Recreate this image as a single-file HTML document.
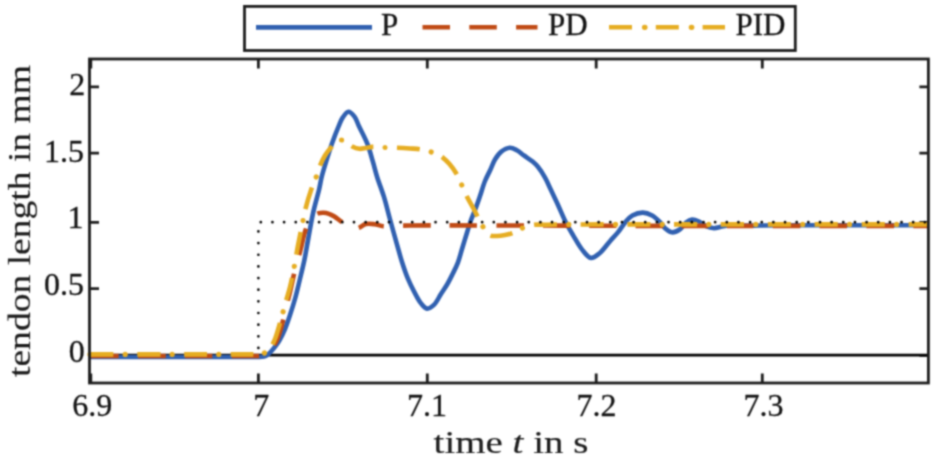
<!DOCTYPE html>
<html><head><meta charset="utf-8"><title>tendon length</title>
<style>
html,body{margin:0;padding:0;background:#fff;}
body{width:935px;height:456px;overflow:hidden;font-family:"Liberation Serif",serif;}
svg{display:block;}
</style></head><body>
<svg width="935" height="456" viewBox="0 0 935 456">
<defs><filter id="b" x="0" y="0" width="100%" height="100%" filterUnits="userSpaceOnUse" color-interpolation-filters="sRGB"><feConvolveMatrix order="5" kernelMatrix="0.00048 0.00501 0.01095 0.00501 0.00048 0.00501 0.05222 0.11405 0.05222 0.00501 0.01095 0.11405 0.24912 0.11405 0.01095 0.00501 0.05222 0.11405 0.05222 0.00501 0.00048 0.00501 0.01095 0.00501 0.00048" edgeMode="duplicate"/></filter></defs>
<g filter="url(#b)">
<rect width="935" height="456" fill="#fff"/>
<path d="M90.8 383V373.5 M90.8 59V68.5 M258.4 383V373.5 M258.4 59V68.5 M427.3 383V373.5 M427.3 59V68.5 M596.2 383V373.5 M596.2 59V68.5 M762.3 383V373.5 M762.3 59V68.5 M89.5 86.8H99 M928.4 86.8H919.4 M89.5 153.2H99 M928.4 153.2H919.4 M89.5 222.3H99 M928.4 222.3H919.4 M89.5 288.7H99 M928.4 288.7H919.4 M89.5 355.3H99 M928.4 355.3H919.4" stroke="#1c1c1c" stroke-width="2.8" fill="none"/>
<path d="M90 355.1H928" stroke="#000" stroke-width="2.6" fill="none"/>
<path d="M90.00 357.00 C126.67 357.00 170.47 357.00 200.00 357.00 C219.91 357.00 240.48 357.00 250.00 357.00 C253.81 357.00 255.53 357.10 258.00 357.00 C260.15 356.91 262.30 356.94 264.00 356.50 C265.36 356.14 266.36 355.68 267.50 354.90 C268.87 353.96 270.20 352.40 271.50 351.00 C272.87 349.52 274.21 347.94 275.50 346.20 C276.91 344.30 278.22 342.41 279.60 340.00 C281.37 336.90 283.34 332.94 285.00 329.00 C286.83 324.66 288.35 319.95 290.00 315.00 C291.83 309.51 293.78 303.36 295.40 297.50 C297.01 291.69 298.25 286.03 299.70 280.00 C301.25 273.56 302.98 266.81 304.40 260.00 C305.86 252.98 306.90 246.06 308.30 238.50 C309.87 230.03 311.49 220.15 313.40 211.60 C315.16 203.71 317.74 195.34 319.20 189.00 C320.25 184.45 320.56 181.40 321.60 177.20 C322.81 172.29 324.55 166.79 326.20 161.40 C327.94 155.70 329.75 149.71 331.80 143.90 C333.88 138.01 336.52 131.15 338.60 126.30 C340.10 122.80 341.04 119.90 342.80 117.40 C344.38 115.16 346.44 111.92 348.40 111.80 C350.34 111.68 352.81 114.47 354.50 116.60 C356.48 119.10 357.26 122.59 359.00 126.30 C361.36 131.30 365.08 137.96 367.40 143.90 C369.65 149.66 371.13 155.70 372.80 161.40 C374.38 166.79 375.49 171.68 377.20 177.20 C379.12 183.39 381.83 189.95 383.90 196.70 C386.09 203.85 387.76 211.20 389.90 219.00 C392.27 227.65 395.28 238.45 397.50 246.30 C399.18 252.26 400.31 256.71 402.00 262.00 C403.76 267.51 405.72 273.46 407.90 278.70 C409.92 283.55 412.21 288.13 414.50 292.40 C416.59 296.32 418.63 300.55 421.00 303.40 C422.87 305.64 424.82 308.37 427.00 308.60 C429.22 308.83 432.07 306.61 434.20 304.60 C436.80 302.14 438.59 297.64 440.80 294.20 C442.99 290.78 445.40 287.43 447.40 284.00 C449.32 280.70 450.90 277.46 452.60 274.00 C454.40 270.34 456.37 266.63 457.90 262.60 C459.53 258.32 460.55 253.78 462.00 249.00 C463.63 243.65 465.56 237.23 467.20 232.00 C468.61 227.51 469.76 223.51 471.20 219.50 C472.57 215.69 474.17 212.30 475.60 208.50 C477.11 204.48 478.51 200.36 480.00 196.00 C481.63 191.23 483.18 185.51 485.00 181.00 C486.56 177.14 488.35 174.05 490.00 170.50 C491.68 166.88 493.03 162.73 495.00 159.50 C496.76 156.61 498.54 153.85 501.00 151.90 C503.47 149.95 507.01 147.95 509.80 147.80 C512.24 147.67 514.54 149.02 516.80 150.20 C519.26 151.48 521.41 153.60 523.90 155.40 C526.65 157.38 530.13 159.53 532.60 161.60 C534.66 163.33 536.13 164.65 537.90 166.80 C540.22 169.62 542.81 173.71 544.90 177.40 C547.01 181.11 548.51 184.82 550.50 189.00 C552.83 193.90 555.45 199.48 558.00 205.00 C560.71 210.89 563.53 217.86 566.30 223.30 C568.63 227.87 570.78 231.40 573.30 235.60 C576.02 240.14 578.90 245.71 582.10 249.60 C584.84 252.93 587.82 257.50 590.90 257.90 C593.68 258.26 596.76 255.48 599.60 253.20 C603.24 250.28 606.93 244.60 610.20 240.90 C612.95 237.79 615.40 235.47 617.90 232.40 C620.61 229.08 623.14 224.59 625.80 221.60 C627.98 219.15 629.73 216.98 632.40 215.50 C635.34 213.87 639.52 212.54 642.90 212.60 C646.08 212.66 649.29 213.95 652.10 215.50 C655.01 217.11 657.71 219.92 660.00 222.20 C662.03 224.23 663.29 226.70 665.30 228.40 C667.24 230.04 669.47 232.07 671.80 232.30 C674.25 232.55 677.38 231.05 679.70 229.50 C682.16 227.86 683.75 224.21 686.00 222.50 C687.90 221.06 689.88 219.70 692.00 219.50 C694.21 219.29 696.75 220.45 699.00 221.50 C701.43 222.63 703.48 225.08 706.00 226.20 C708.49 227.31 711.33 228.14 714.00 228.20 C716.66 228.26 719.18 227.14 722.00 226.60 C725.14 226.00 728.43 225.01 732.00 224.80 C736.04 224.56 740.51 225.48 745.00 225.60 C749.82 225.73 753.80 225.54 760.00 225.50 C770.13 225.43 785.32 225.26 800.00 225.20 C817.98 225.13 839.37 225.20 860.00 225.20 C881.96 225.20 905.33 225.20 928.00 225.20" stroke="#3060b0" stroke-width="4.6" fill="none" stroke-linejoin="round"/>
<path d="M90.00 356.00 C126.67 356.00 170.47 356.00 200.00 356.00 C219.91 356.00 240.48 356.00 250.00 356.00 C253.81 356.00 255.59 356.17 258.00 356.00 C260.01 355.85 261.82 355.84 263.50 355.20 C265.15 354.57 266.50 353.53 268.00 352.20 C269.93 350.50 272.14 347.94 273.80 345.50 C275.48 343.04 276.75 340.50 278.00 337.50 C279.48 333.96 280.61 329.84 281.80 325.50 C283.18 320.46 284.25 314.53 285.60 309.00 C286.98 303.37 288.53 298.04 290.00 292.00 C291.66 285.15 293.21 277.14 295.00 270.00 C296.72 263.15 298.84 256.45 300.50 250.00 C302.05 244.01 303.08 237.63 304.70 232.60 C305.99 228.58 307.42 224.93 309.00 222.00 C310.24 219.70 311.40 217.66 313.00 216.20 C314.45 214.88 316.23 213.98 318.00 213.40 C319.76 212.82 321.76 212.63 323.60 212.70 C325.42 212.77 327.27 213.20 329.00 213.80 C330.74 214.40 332.20 215.21 334.00 216.30 C336.34 217.73 339.15 220.12 341.70 221.90 C344.15 223.61 346.34 225.75 349.00 226.80 C351.65 227.85 354.84 228.63 357.60 228.20 C360.44 227.75 362.93 224.66 365.80 224.00 C368.60 223.36 371.69 223.84 374.60 224.20 C377.53 224.57 380.16 225.90 383.30 226.20 C386.89 226.55 390.86 225.91 395.00 225.80 C399.69 225.67 402.40 225.57 410.00 225.50 C434.02 225.27 517.79 225.51 560.00 225.60 C590.82 225.67 615.25 225.85 640.00 225.90 C661.44 225.94 677.46 225.90 700.00 225.90 C729.10 225.90 764.61 225.90 800.00 225.90 C840.04 225.90 885.33 225.90 928.00 225.90" stroke="#c04a14" stroke-width="4.6" fill="none" stroke-dasharray="0.00 1.10 27.53 19.32 27.53 19.30 27.49 19.29 27.49 19.29 27.49 19.29 27.49 19.29 27.49 19.29 27.48 18.38 26.23 19.38 27.62 19.01 27.09 19.38 27.62 19.01 27.08 19.01 27.10 19.34 27.56 18.72 26.67 18.56 26.46 19.34 27.56 19.30 27.50 19.30 27.50 19.30 20.11 1000.00"/>
<path d="M90.00 354.40 C126.67 354.40 170.47 354.40 200.00 354.40 C219.91 354.40 240.48 354.40 250.00 354.40 C253.81 354.40 255.72 354.50 258.00 354.40 C259.72 354.32 261.06 354.51 262.50 354.00 C264.07 353.45 265.59 352.22 267.00 351.00 C268.54 349.67 270.01 348.09 271.30 346.20 C272.79 344.02 273.99 341.46 275.20 338.50 C276.72 334.78 278.02 329.82 279.30 325.50 C280.55 321.25 281.66 316.96 282.80 312.80 C283.89 308.80 284.86 305.10 286.00 301.00 C287.24 296.53 288.75 292.05 290.00 287.00 C291.44 281.17 292.71 274.65 294.00 268.00 C295.42 260.71 296.63 252.72 298.10 245.00 C299.60 237.13 301.57 227.72 302.90 221.20 C303.83 216.64 304.20 213.99 305.30 209.60 C306.78 203.71 309.36 195.00 311.40 189.10 C312.99 184.50 314.76 180.94 316.20 177.00 C317.54 173.32 318.35 169.75 319.80 166.20 C321.28 162.58 322.95 158.82 325.00 155.50 C327.00 152.26 329.69 149.00 331.90 146.50 C333.66 144.52 335.22 142.59 337.00 141.50 C338.45 140.61 339.94 139.92 341.50 140.00 C343.26 140.09 345.24 141.45 347.00 142.50 C348.85 143.60 350.31 145.46 352.30 146.50 C354.39 147.59 356.97 148.57 359.30 148.80 C361.53 149.02 363.79 148.32 366.00 148.00 C368.19 147.68 369.99 147.05 372.50 146.90 C375.92 146.70 380.62 147.35 384.70 147.50 C388.79 147.65 392.84 147.64 397.00 147.80 C401.27 147.97 405.95 148.23 410.00 148.50 C413.55 148.74 416.62 148.76 420.00 149.30 C423.58 149.87 427.81 151.00 430.90 151.90 C433.25 152.58 435.04 153.07 437.00 154.00 C439.01 154.96 440.87 156.11 442.80 157.60 C445.04 159.34 447.39 161.58 449.50 164.00 C451.81 166.65 454.04 169.71 456.00 173.00 C458.11 176.56 459.82 180.84 461.60 184.70 C463.32 188.44 464.60 191.95 466.50 195.80 C468.66 200.17 471.79 205.27 474.00 209.50 C475.87 213.08 477.43 216.46 479.00 219.50 C480.33 222.08 481.56 224.41 482.80 226.60 C483.89 228.54 484.70 230.49 486.00 232.00 C487.22 233.42 488.58 234.82 490.30 235.50 C492.19 236.25 494.67 236.06 497.00 236.00 C499.55 235.94 502.37 235.50 505.00 235.00 C507.63 234.50 510.41 233.96 512.80 233.00 C515.05 232.09 516.91 230.48 519.00 229.50 C520.98 228.57 522.78 227.92 525.00 227.20 C527.68 226.33 530.82 225.23 534.00 224.80 C537.45 224.33 540.88 224.74 545.00 224.70 C550.27 224.65 555.32 224.55 563.00 224.50 C576.67 224.41 599.39 224.42 620.00 224.40 C644.41 224.38 671.85 224.40 700.00 224.40 C731.48 224.40 764.61 224.40 800.00 224.40 C840.04 224.40 885.33 224.40 928.00 224.40" stroke="#e6ad22" stroke-width="4.6" fill="none" stroke-dasharray="0.00 0.45 22.99 23.79 22.99 23.79 22.99 23.50 22.67 23.45 22.65 23.66 23.05 23.75 22.85 23.44 22.46 23.47 22.90 23.52 22.55 23.50 22.85 23.70 22.95 23.80 23.05 23.48 22.31 23.42 22.96 23.76 22.96 23.76 22.96 23.76 22.96 23.81 23.05 23.85 23.05 23.85 23.05 23.83 23.00 23.80 24.92 1000.00"/>
<path d="M90.00 354.40 C126.67 354.40 170.47 354.40 200.00 354.40 C219.91 354.40 240.48 354.40 250.00 354.40 C253.81 354.40 255.72 354.50 258.00 354.40 C259.72 354.32 261.06 354.51 262.50 354.00 C264.07 353.45 265.59 352.22 267.00 351.00 C268.54 349.67 270.01 348.09 271.30 346.20 C272.79 344.02 273.99 341.46 275.20 338.50 C276.72 334.78 278.02 329.82 279.30 325.50 C280.55 321.25 281.66 316.96 282.80 312.80 C283.89 308.80 284.86 305.10 286.00 301.00 C287.24 296.53 288.75 292.05 290.00 287.00 C291.44 281.17 292.71 274.65 294.00 268.00 C295.42 260.71 296.63 252.72 298.10 245.00 C299.60 237.13 301.57 227.72 302.90 221.20 C303.83 216.64 304.20 213.99 305.30 209.60 C306.78 203.71 309.36 195.00 311.40 189.10 C312.99 184.50 314.76 180.94 316.20 177.00 C317.54 173.32 318.35 169.75 319.80 166.20 C321.28 162.58 322.95 158.82 325.00 155.50 C327.00 152.26 329.69 149.00 331.90 146.50 C333.66 144.52 335.22 142.59 337.00 141.50 C338.45 140.61 339.94 139.92 341.50 140.00 C343.26 140.09 345.24 141.45 347.00 142.50 C348.85 143.60 350.31 145.46 352.30 146.50 C354.39 147.59 356.97 148.57 359.30 148.80 C361.53 149.02 363.79 148.32 366.00 148.00 C368.19 147.68 369.99 147.05 372.50 146.90 C375.92 146.70 380.62 147.35 384.70 147.50 C388.79 147.65 392.84 147.64 397.00 147.80 C401.27 147.97 405.95 148.23 410.00 148.50 C413.55 148.74 416.62 148.76 420.00 149.30 C423.58 149.87 427.81 151.00 430.90 151.90 C433.25 152.58 435.04 153.07 437.00 154.00 C439.01 154.96 440.87 156.11 442.80 157.60 C445.04 159.34 447.39 161.58 449.50 164.00 C451.81 166.65 454.04 169.71 456.00 173.00 C458.11 176.56 459.82 180.84 461.60 184.70 C463.32 188.44 464.60 191.95 466.50 195.80 C468.66 200.17 471.79 205.27 474.00 209.50 C475.87 213.08 477.43 216.46 479.00 219.50 C480.33 222.08 481.56 224.41 482.80 226.60 C483.89 228.54 484.70 230.49 486.00 232.00 C487.22 233.42 488.58 234.82 490.30 235.50 C492.19 236.25 494.67 236.06 497.00 236.00 C499.55 235.94 502.37 235.50 505.00 235.00 C507.63 234.50 510.41 233.96 512.80 233.00 C515.05 232.09 516.91 230.48 519.00 229.50 C520.98 228.57 522.78 227.92 525.00 227.20 C527.68 226.33 530.82 225.23 534.00 224.80 C537.45 224.33 540.88 224.74 545.00 224.70 C550.27 224.65 555.32 224.55 563.00 224.50 C576.67 224.41 599.39 224.42 620.00 224.40 C644.41 224.38 671.85 224.40 700.00 224.40 C731.48 224.40 764.61 224.40 800.00 224.40 C840.04 224.40 885.33 224.40 928.00 224.40" stroke="#e6ad22" stroke-width="5.2" fill="none" stroke-linecap="round" stroke-dasharray="0.00 35.19 0.01 46.77 0.01 46.65 0.01 46.12 0.01 46.09 0.01 46.89 0.01 46.48 0.01 45.70 0.01 46.59 0.01 45.89 0.01 46.49 0.01 46.69 0.01 46.89 0.01 45.39 0.01 46.71 0.01 46.71 0.01 46.71 0.01 46.72 0.01 46.89 0.01 46.89 0.01 46.89 0.01 46.79 0.01 36.96"/>
<path d="M258.4 355.5V222.2H928" stroke="#000" stroke-width="2.7" fill="none" stroke-dasharray="0 11.65" stroke-dashoffset="4.1" stroke-linecap="round"/>
<rect x="89.5" y="59" width="838.9" height="324" fill="none" stroke="#1c1c1c" stroke-width="2.8"/>
<g font-family="Liberation Serif" font-size="32" fill="#111" stroke="#111" stroke-width="0.3"><text x="92.2" y="415.6" text-anchor="middle">6.9</text><text x="261.2" y="415.6" text-anchor="middle">7</text><text x="427" y="415.6" text-anchor="middle">7.1</text><text x="596.4" y="415.6" text-anchor="middle">7.2</text><text x="763.4" y="415.6" text-anchor="middle">7.3</text><text x="85.2" y="94.8" text-anchor="end">2</text><text x="84" y="162.2" text-anchor="end">1.5</text><text x="83.5" y="228.4" text-anchor="end">1</text><text x="84" y="295" text-anchor="end">0.5</text><text x="84.7" y="361.8" text-anchor="end">0</text></g>
<text x="433.6" y="453.4" font-family="Liberation Serif" font-size="30.5" fill="#1a1a1a" stroke="#1a1a1a" stroke-width="0.15" textLength="154.8" lengthAdjust="spacingAndGlyphs">time <tspan font-style="italic">t</tspan> in s</text>
<text transform="translate(29.8 377) rotate(-90)" font-family="Liberation Serif" font-size="31.5" fill="#1a1a1a" stroke="#1a1a1a" stroke-width="0.15" textLength="312" lengthAdjust="spacingAndGlyphs">tendon length in mm</text>
<rect x="244.5" y="6.4" width="550.8" height="44.1" fill="#fff" stroke="#1c1c1c" stroke-width="2.8"/>
<path d="M256 27.4H372" stroke="#3060b0" stroke-width="4.6"/>
<path d="M422.5 27.3H537.5" stroke="#c04a14" stroke-width="4.6" stroke-dasharray="27.5 19.3"/>
<path d="M609 27.3H725" stroke="#e6ad22" stroke-width="4.6" stroke-dasharray="23 23.8"/>
<path d="M644.5 27.3H645M691.3 27.3H691.8" stroke="#e6ad22" stroke-width="5.2" stroke-linecap="round"/>
<g font-family="Liberation Serif" font-size="31" fill="#111" stroke="#111" stroke-width="0.3"><text x="381" y="35.2">P</text><text x="548" y="35.2">PD</text><text x="735.5" y="35.2">PID</text></g>
</g></svg>
</body></html>
